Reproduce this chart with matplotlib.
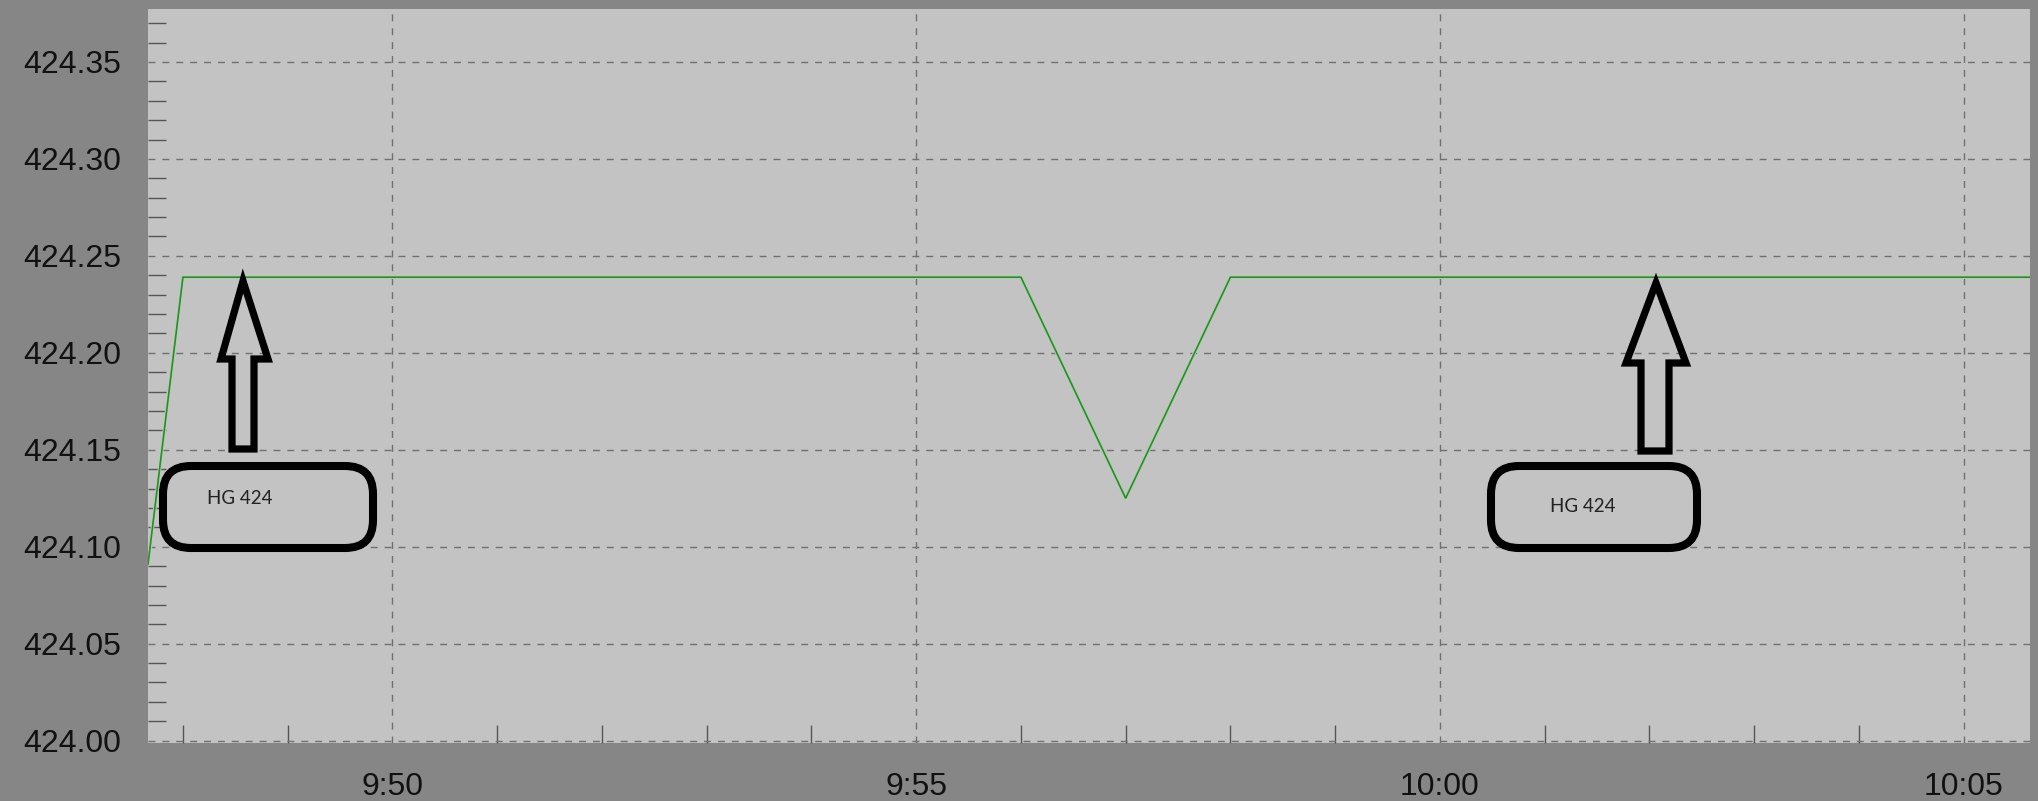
import datetime as dt
import matplotlib
matplotlib.use("Agg")
import matplotlib.pyplot as plt
import matplotlib.dates as mdates
from matplotlib.ticker import MultipleLocator, FormatStrFormatter, FuncFormatter
from matplotlib.patches import FancyBboxPatch, Polygon
from matplotlib.transforms import IdentityTransform

times = ["9:47:40", "9:48", "9:49", "9:50", "9:51", "9:52", "9:53", "9:54", "9:55",
         "9:56", "9:57", "9:58", "9:59", "10:00", "10:01", "10:02", "10:03",
         "10:04", "10:05", "10:06"]
values = [424.091, 424.239, 424.239, 424.239, 424.239, 424.239, 424.239, 424.239, 424.239,
          424.239, 424.125, 424.239, 424.239, 424.239, 424.239, 424.239, 424.239,
          424.239, 424.239, 424.239]
label_text = "HG 424"


def to_dt(s):
    parts = [int(p) for p in s.split(":")]
    while len(parts) < 3:
        parts.append(0)
    return dt.datetime(2000, 1, 1, parts[0], parts[1], parts[2])


x = [to_dt(t) for t in times]

W, H = 2038, 801
fig = plt.figure(figsize=(W / 100, H / 100), dpi=100)
fig.patch.set_facecolor("#868686")
ax = fig.add_axes([148 / W, 1 - 743 / H, (2030 - 148) / W, (743 - 9) / H])
ax.set_facecolor("#c3c3c3")
for s in ax.spines.values():
    s.set_visible(False)

ax.plot(x, values, color="#a6d6a6", lw=2.6, solid_joinstyle="miter")
ax.plot(x, values, color="#348434", lw=1.2, solid_joinstyle="miter")

ax.set_xlim(to_dt("9:47:40"), to_dt("10:05:38"))
ax.set_ylim(423.9988, 424.3773)

ax.xaxis.set_major_locator(mdates.MinuteLocator(byminute=range(0, 60, 5)))
ax.xaxis.set_minor_locator(mdates.MinuteLocator())
ax.xaxis.set_major_formatter(FuncFormatter(
    lambda v, p: "%d:%02d" % (mdates.num2date(v).hour, mdates.num2date(v).minute)))
ax.yaxis.set_major_locator(MultipleLocator(0.05))
ax.yaxis.set_minor_locator(MultipleLocator(0.01))
ax.yaxis.set_major_formatter(FormatStrFormatter("%.2f"))

ax.tick_params(which="major", length=0, labelsize=23, colors="#111111")
ax.tick_params(axis="y", which="major", pad=19)
ax.tick_params(axis="x", which="major", pad=21)
ax.tick_params(which="minor", direction="in", length=13, width=1, color="#555555")
for lab in ax.get_xticklabels() + ax.get_yticklabels():
    lab.set_fontfamily("Liberation Sans")

ax.grid(True, which="major", color="#707070", linestyle=(0, (5, 5)), linewidth=1)

# hand-drawn callouts (image pixel coords, y from top)
tr = IdentityTransform()


def px(pts):
    return [(a, H - b) for a, b in pts]


def callout(box, arrow, text_pos):
    l, t, r, b = box
    fig.add_artist(FancyBboxPatch((l + 4, H - b + 4), r - l - 8, b - t - 8,
                                  boxstyle="round,pad=0,rounding_size=28",
                                  transform=tr, facecolor="none",
                                  edgecolor="black", lw=5.8))
    fig.add_artist(Polygon(px(arrow), closed=True, transform=tr,
                           facecolor="none", edgecolor="black", lw=5.2,
                           joinstyle="miter"))
    fig.text(text_pos[0], H - text_pos[1], label_text, transform=tr,
             ha="center", va="center", fontsize=13.5, family="Lato",
             color="#222222")


callout((159, 462, 377, 552),
        [(243, 281), (221, 359), (232, 359), (232, 449), (254, 449), (254, 359), (268, 359)],
        (240, 498))
callout((1487, 462, 1701, 552),
        [(1656, 283), (1626, 363), (1641, 363), (1641, 451), (1669, 451), (1669, 363), (1686, 363)],
        (1583, 507))

fig.savefig("out.png", dpi=100, facecolor=fig.get_facecolor())
